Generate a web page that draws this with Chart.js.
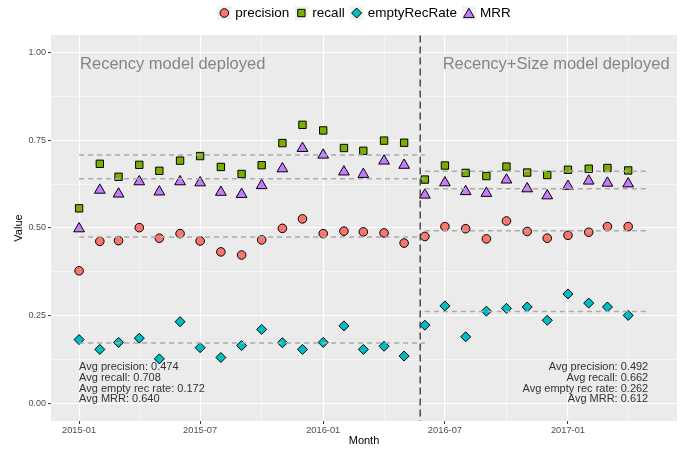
<!DOCTYPE html>
<html>
<head>
<meta charset="utf-8">
<script src="https://cdn.jsdelivr.net/npm/chart.js@4.4.1/dist/chart.umd.min.js"></script>
<style>
  html, body { margin: 0; padding: 0; background: #ffffff; }
  canvas { display: block; }
</style>
</head>
<body>
<canvas id="chart" width="691" height="451"></canvas>
<script>
// monthly values
const months = [
    '2015-01', '2015-02', '2015-03', '2015-04', '2015-05', '2015-06', '2015-07',
    '2015-08', '2015-09', '2015-10', '2015-11', '2015-12', '2016-01', '2016-02',
    '2016-03', '2016-04', '2016-05', '2016-06', '2016-07', '2016-08', '2016-09',
    '2016-10', '2016-11', '2016-12', '2017-01', '2017-02', '2017-03', '2017-04'
];
const precision = [
    0.378, 0.462, 0.464, 0.501, 0.471, 0.484, 0.463, 0.432, 0.423, 0.466, 0.499, 0.526, 0.484, 0.491,
    0.489, 0.486, 0.457, 0.476, 0.504, 0.498, 0.469, 0.520, 0.490, 0.471, 0.479, 0.488, 0.504, 0.504
];
const recall = [
    0.556, 0.683, 0.646, 0.680, 0.663, 0.692, 0.705, 0.674, 0.654, 0.679, 0.742, 0.794, 0.778, 0.728,
    0.720, 0.749, 0.743, 0.638, 0.678, 0.657, 0.648, 0.675, 0.658, 0.651, 0.666, 0.669, 0.671, 0.664
];
const emptyRecRate = [
    0.182, 0.154, 0.174, 0.186, 0.127, 0.233, 0.159, 0.131, 0.165, 0.211, 0.173, 0.154, 0.174, 0.221,
    0.154, 0.163, 0.135, 0.223, 0.278, 0.190, 0.263, 0.271, 0.275, 0.237, 0.312, 0.286, 0.275, 0.251
];
const mrr = [
    0.498, 0.608, 0.597, 0.632, 0.603, 0.632, 0.629, 0.602, 0.596, 0.621, 0.669, 0.727, 0.708, 0.660,
    0.653, 0.691, 0.679, 0.594, 0.629, 0.604, 0.599, 0.637, 0.612, 0.592, 0.619, 0.634, 0.628, 0.626
];

const seriesNames = ['precision', 'recall', 'emptyRecRate', 'MRR'];
const seriesColors = ['#F8766D', '#7CAE00', '#00BFC4', '#C77CFF'];
const seriesShapes = ['circle', 'rect', 'rectRot', 'triangle'];
const seriesRadius = [4.3, 5.2, 5, 6.2];

// period averages (dashed lines + text)
const avgBefore = [0.474, 0.708, 0.172, 0.640];
const avgAfter = [0.492, 0.662, 0.262, 0.612];
const avgLabels = ['Avg precision', 'Avg recall', 'Avg empty rec rate', 'Avg MRR'];
const periodStart = ['2015-01-01', '2016-06-01'];
const periodEnd = ['2016-06-01', '2017-05-01'];
const periodTitles = ['Recency model deployed', 'Recency+Size model deployed'];
const deployDate = '2016-05-25';

// axes
const xMajorTicks = ['2015-01', '2015-07', '2016-01', '2016-07', '2017-01'];
const xMinorTicks = ['2015-04', '2015-10', '2016-04', '2016-10', '2017-04'];
const yMajorTicks = [0, 0.25, 0.5, 0.75, 1];
const yMinorTicks = [0.125, 0.375, 0.625, 0.875];

const FONT = '"Liberation Sans", Arial, Helvetica, sans-serif';

function toMs(s) {
    const p = s.split('-');
    return Date.UTC(+p[0], +p[1] - 1, p[2] ? +p[2] : 1);
}
const DAY = 86400000;
const xMin = toMs('2015-01-01') - 42 * DAY;
const xMax = toMs('2017-01-01') + 163 * DAY;

const majorXms = xMajorTicks.map(toMs);
const seriesValues = [precision, recall, emptyRecRate, mrr];

// --- datasets ---
const datasets = [];

// avg lines per period (drawn on top of points, like the original)
seriesNames.forEach((name, i) => {
    [avgBefore, avgAfter].forEach((avg, p) => {
        datasets.push({
            label: 'avg-' + name + '-' + p,
            data: [{ x: toMs(periodStart[p]), y: avg[i] }, { x: toMs(periodEnd[p]), y: avg[i] }],
            showLine: true,
            borderColor: '#ABABAB',
            borderWidth: 1.5,
            borderDash: [5, 4],
            pointRadius: 0,
            order: 0
        });
    });
});

// deployment marker
datasets.push({
    label: 'deploy',
    data: [{ x: toMs(deployDate), y: -0.1 }, { x: toMs(deployDate), y: 1.1 }],
    showLine: true,
    borderColor: '#333333',
    borderWidth: 1.3,
    borderDash: [7, 4],
    pointRadius: 0,
    order: 0
});

seriesNames.forEach((name, i) => {
    datasets.push({
        label: name,
        data: months.map((m, k) => ({ x: toMs(m), y: seriesValues[i][k] })),
        showLine: false,
        pointStyle: seriesShapes[i],
        pointRadius: seriesRadius[i],
        pointHoverRadius: seriesRadius[i],
        backgroundColor: seriesColors[i],
        borderColor: '#000000',
        borderWidth: 1,
        order: 1
    });
});

// --- plugins ---
const panelBackground = {
    id: 'panelBackground',
    beforeDraw(chart) {
        const { ctx, chartArea: a } = chart;
        ctx.save();
        ctx.fillStyle = '#EBEBEB';
        ctx.fillRect(a.left, a.top, a.right - a.left, a.bottom - a.top);
        ctx.restore();
    }
};

function drawShape(ctx, shape, radius, x, y) {
    if (Chart.helpers && Chart.helpers.drawPoint) {
        Chart.helpers.drawPoint(ctx, { pointStyle: shape, radius: radius, borderWidth: 1, rotation: 0 }, x, y);
        return;
    }
    ctx.beginPath();
    ctx.arc(x, y, radius, 0, Math.PI * 2);
    ctx.fill();
    ctx.stroke();
}

const ggLegend = {
    id: 'ggLegend',
    afterDraw(chart) {
        const { ctx, chartArea: a } = chart;
        ctx.save();
        ctx.font = '13.5px ' + FONT;
        const key = 14, gap = 4, sep = 5;
        const widths = seriesNames.map(n => ctx.measureText(n).width);
        const total = widths.reduce((s, w) => s + key + gap + w, 0) + sep * (seriesNames.length - 1);
        let x = (a.left + a.right) / 2 - total / 2;
        const y = 13;
        seriesNames.forEach((name, i) => {
            ctx.fillStyle = '#F2F2F2';
            ctx.fillRect(x, y - key / 2, key, key);
            ctx.fillStyle = seriesColors[i];
            ctx.strokeStyle = '#000000';
            ctx.lineWidth = 1;
            drawShape(ctx, seriesShapes[i], seriesRadius[i], x + key / 2, y + (seriesShapes[i] === 'triangle' ? 1.5 : 0));
            ctx.fillStyle = '#000000';
            ctx.textAlign = 'left';
            ctx.textBaseline = 'middle';
            ctx.fillText(name, x + key + gap, y + 0.5);
            x += key + gap + widths[i] + sep;
        });
        ctx.restore();
    }
};

const annotations = {
    id: 'annotations',
    afterDatasetsDraw(chart) {
        const { ctx } = chart;
        const xs = chart.scales.x, ys = chart.scales.y;
        ctx.save();

        // period titles
        ctx.font = '16.5px ' + FONT;
        ctx.fillStyle = '#858585';
        ctx.textBaseline = 'alphabetic';
        ctx.textAlign = 'left';
        ctx.fillText(periodTitles[0], xs.getPixelForValue(toMs(periodStart[0])) + 1, ys.getPixelForValue(0.953));
        ctx.textAlign = 'right';
        ctx.fillText(periodTitles[1], xs.getPixelForValue(toMs('2017-06-02')), ys.getPixelForValue(0.953));

        // averages
        ctx.font = '11px ' + FONT;
        ctx.fillStyle = '#333333';
        const base = ys.getPixelForValue(0) - 1;
        const lh = 10.7;
        [avgBefore, avgAfter].forEach((avg, p) => {
            ctx.textAlign = p === 0 ? 'left' : 'right';
            const px = xs.getPixelForValue(toMs(p === 0 ? periodStart[0] : periodEnd[1]));
            avgLabels.forEach((lab, i) => {
                const yy = base - (avgLabels.length - 1 - i) * lh;
                ctx.fillText(lab + ': ' + avg[i].toFixed(3), px, yy);
            });
        });
        ctx.restore();
    }
};

const isMajorX = v => majorXms.includes(v);
const isMajorY = v => yMajorTicks.includes(v);

new Chart(document.getElementById('chart'), {
    type: 'scatter',
    data: { datasets: datasets },
    options: {
        responsive: false,
        animation: false,
        layout: { padding: { left: 0, right: 14, top: 35, bottom: 0 } },
        plugins: {
            legend: { display: false },
            tooltip: { enabled: false }
        },
        scales: {
            x: {
                type: 'linear',
                min: xMin,
                max: xMax,
                afterBuildTicks: scale => {
                    scale.ticks = majorXms.concat(xMinorTicks.map(toMs))
                        .sort((a, b) => a - b)
                        .map(v => ({ value: v }));
                },
                afterFit: scale => { scale.height = 30; },
                border: { display: false },
                grid: {
                    color: '#FFFFFF',
                    lineWidth: c => (c.tick && isMajorX(c.tick.value)) ? 1.1 : 0.5,
                    tickColor: c => (c.tick && isMajorX(c.tick.value)) ? '#333333' : 'rgba(0,0,0,0)',
                    tickLength: 3,
                    tickWidth: 1
                },
                ticks: {
                    autoSkip: false,
                    maxRotation: 0,
                    padding: 1,
                    color: '#4D4D4D',
                    font: { family: FONT, size: 9.3 },
                    callback: v => {
                        const k = majorXms.indexOf(v);
                        return k >= 0 ? xMajorTicks[k] : '';
                    }
                },
                title: {
                    display: true,
                    text: 'Month',
                    color: '#000000',
                    font: { family: FONT, size: 11 },
                    padding: { top: 0, bottom: 3.4 }
                }
            },
            y: {
                type: 'linear',
                min: -0.05,
                max: 1.05,
                afterBuildTicks: scale => {
                    scale.ticks = yMajorTicks.concat(yMinorTicks)
                        .sort((a, b) => a - b)
                        .map(v => ({ value: v }));
                },
                afterFit: scale => { scale.width = 51; },
                border: { display: false },
                grid: {
                    color: '#FFFFFF',
                    lineWidth: c => (c.tick && isMajorY(c.tick.value)) ? 1.1 : 0.5,
                    tickColor: c => (c.tick && isMajorY(c.tick.value)) ? '#333333' : 'rgba(0,0,0,0)',
                    tickLength: 3,
                    tickWidth: 1
                },
                ticks: {
                    autoSkip: false,
                    padding: 2,
                    color: '#4D4D4D',
                    font: { family: FONT, size: 9 },
                    callback: v => isMajorY(v) ? v.toFixed(2) : ''
                },
                title: {
                    display: true,
                    text: 'Value',
                    color: '#000000',
                    font: { family: FONT, size: 11 },
                    padding: { top: 12.4, bottom: 0 }
                }
            }
        }
    },
    plugins: [panelBackground, ggLegend, annotations]
});
</script>
</body>
</html>
